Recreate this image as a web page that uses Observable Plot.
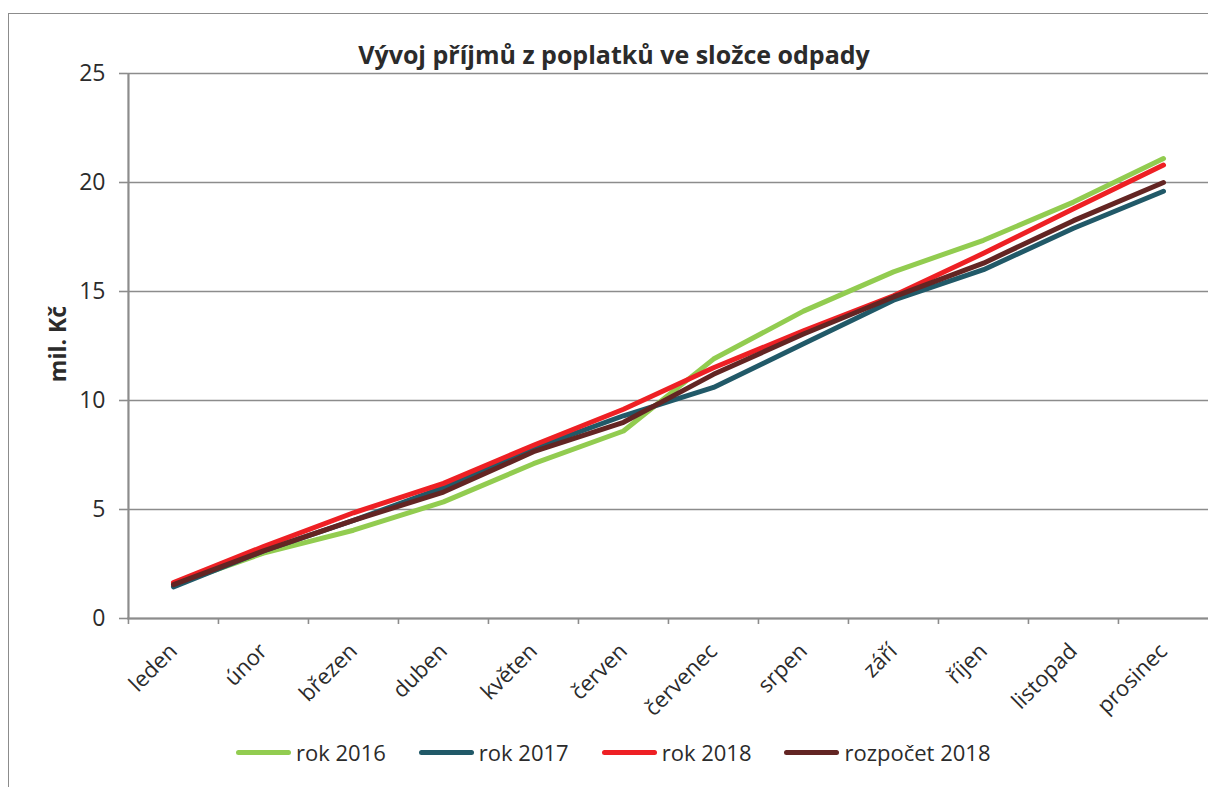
<!DOCTYPE html>
<html>
<head>
<meta charset="utf-8">
<script src="https://cdn.jsdelivr.net/npm/d3@7"></script>
<script src="https://cdn.jsdelivr.net/npm/@observablehq/plot@0.6"></script>
<style>
  html, body { margin: 0; padding: 0; background: #fff; }
  #wrap { position: relative; width: 1208px; height: 787px; overflow: hidden; font-family: "Open Sans", "Noto Sans", sans-serif; color: #2b2b2b; }
  #border { position: absolute; left: 8px; top: 13px; width: 1300px; height: 900px; border: 1.5px solid #8c8c8c; box-sizing: border-box; }
  #title { position: absolute; left: 0; width: 1228px; top: 37px; text-align: center; font-weight: bold; font-size: 25px; line-height: 34px; }
  #chart { position: absolute; left: 0; top: 0; }
  #ylabel { position: absolute; left: 57px; top: 344px; transform: translate(-50%, -50%) rotate(-90deg); font-weight: bold; font-size: 23px; white-space: nowrap; }
  #legend { position: absolute; top: 736px; left: 236px; display: flex; align-items: center; font-size: 22px; line-height: 32px; }
  .item { display: flex; align-items: center; margin-right: 33px; }
  .sw { width: 55px; height: 5px; border-radius: 3px; margin-right: 5px; }
</style>
</head>
<body>
<div id="wrap">
  <div id="border"></div>
  <div id="chart"></div>
  <div id="title">Vývoj příjmů z poplatků ve složce odpady</div>
  <div id="ylabel">mil. Kč</div>
  <div id="legend"></div>
</div>
<script>
const months = ["leden","únor","březen","duben","květen","červen","červenec","srpen","září","říjen","listopad","prosinec"];
const rok2016 = [1.55, 3.0, 4.05, 5.35, 7.1, 8.6, 11.9, 14.1, 15.9, 17.35, 19.1, 21.1];
const rok2017 = [1.45, 3.1, 4.5, 6.0, 7.8, 9.3, 10.6, 12.6, 14.6, 16.0, 17.9, 19.6];
const rok2018 = [1.65, 3.3, 4.85, 6.2, 7.95, 9.6, 11.5, 13.2, 14.8, 16.75, 18.8, 20.8];
const rozpocet2018 = [1.55, 3.1, 4.5, 5.8, 7.65, 9.0, 11.2, 13.05, 14.75, 16.3, 18.25, 20.0];
const seriesNames = ["rok 2016", "rok 2017", "rok 2018", "rozpočet 2018"];
const seriesColors = ["#92cc50", "#215968", "#ee2024", "#632523"];
const yTicks = [0, 5, 10, 15, 20, 25];

const seriesValues = [rok2016, rok2017, rok2018, rozpocet2018];
const data = seriesValues.flatMap((vals, s) => vals.map((v, i) => ({month: months[i], value: v, series: seriesNames[s]})));

const W = 1208, H = 700;
const left = 127, right = 0;
const step = (W - left - right) / months.length;
const gray = "#8c8c8c";

const plot = Plot.plot({
  width: W, height: H,
  marginLeft: left, marginRight: right, marginTop: 73, marginBottom: H - 618,
  style: {fontFamily: '"Open Sans", "Noto Sans", sans-serif', color: "#2b2b2b", background: "transparent", overflow: "visible"},
  x: {type: "point", domain: months, padding: 0.5, label: null},
  y: {domain: [0, 25], label: null},
  color: {domain: seriesNames, range: seriesColors},
  marks: [
    Plot.gridY(yTicks, {stroke: gray, strokeOpacity: 1, strokeWidth: 1.6}),
    Plot.ruleY([0], {stroke: gray, strokeWidth: 2.2}),
    Plot.ruleX([months[0]], {y1: 0, y2: 25, dx: -step / 2, stroke: gray, strokeWidth: 2.2}),
    Plot.axisX({tickSize: 6, tickFormat: () => "", dx: -step / 2, stroke: gray, strokeWidth: 1.6}),
    Plot.axisX({tickSize: 0, tickRotate: -45, tickPadding: 29, fontSize: 22, fill: "#2b2b2b"}),
    Plot.axisY(yTicks, {tickSize: 8, tickPadding: 14, fontSize: 23, stroke: gray, strokeWidth: 1.6, fill: "#2b2b2b"}),
    Plot.line(data, {x: "month", y: "value", z: "series", stroke: "series", strokeWidth: 5, strokeLinecap: "round", strokeLinejoin: "round"})
  ]
});
document.getElementById("chart").appendChild(plot);

const legend = document.getElementById("legend");
seriesNames.forEach((name, i) => {
  const item = document.createElement("div");
  item.className = "item";
  const sw = document.createElement("div");
  sw.className = "sw";
  sw.style.background = seriesColors[i];
  const t = document.createElement("span");
  t.textContent = name;
  item.appendChild(sw);
  item.appendChild(t);
  legend.appendChild(item);
});
</script>
</body>
</html>
